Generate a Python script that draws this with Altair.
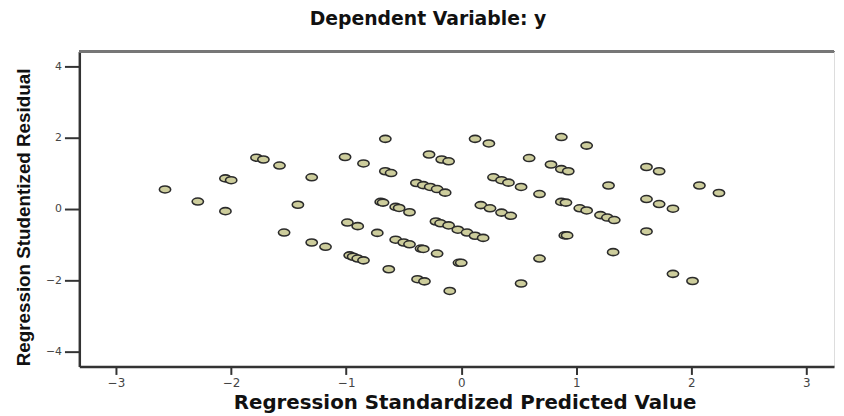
import altair as alt
import pandas as pd

# Regression Standardized Predicted Value (x) and Studentized Residual (y)
x_vals = [-2.575, -2.29, -2.05, -2.05, -2.00, -1.78, -1.72, -1.58, -1.54, -1.42,
          -1.30, -1.30, -1.18, -1.01, -0.99, -0.90, -0.85, -0.97, -0.94, -0.90,
          -0.85, -0.66, -0.73, -0.70, -0.68, -0.66, -0.61, -0.63, -0.57, -0.54,
          -0.45, -0.57, -0.50, -0.45, -0.35, -0.33, -0.21, -0.38, -0.32, -0.10,
          -0.39, -0.33, -0.27, -0.21, -0.14, -0.28, -0.17, -0.11, -0.22, -0.18,
          -0.11, -0.03, 0.05, 0.12, 0.19, -0.02, 0.00, 0.12, 0.24, 0.59,
          0.78, 0.87, 0.93, 0.87, 1.09, 0.28, 0.35, 0.41, 0.52, 0.68,
          0.17, 0.25, 0.35, 0.43, 0.87, 0.91, 1.03, 1.09, 1.21, 1.27,
          1.33, 1.28, 0.90, 0.92, 0.68, 1.32, 0.52, 1.61, 1.72, 1.61,
          1.72, 1.84, 1.61, 1.84, 2.01, 2.07, 2.24]
y_vals = [0.55, 0.21, -0.06, 0.86, 0.81, 1.44, 1.39, 1.22, -0.66, 0.12,
          0.89, -0.94, -1.06, 1.46, -0.38, -0.48, 1.28, -1.30, -1.34, -1.39,
          -1.44, 1.97, -0.67, 0.20, 0.18, 1.06, 1.01, -1.69, 0.06, 0.03,
          -0.09, -0.86, -0.94, -0.99, -1.11, -1.12, -1.25, -1.97, -2.03, -2.30,
          0.73, 0.67, 0.62, 0.56, 0.46, 1.53, 1.39, 1.34, -0.35, -0.40,
          -0.46, -0.58, -0.66, -0.75, -0.81, -1.51, -1.51, 1.97, 1.84, 1.43,
          1.25, 1.12, 1.06, 2.02, 1.78, 0.89, 0.81, 0.74, 0.62, 0.42,
          0.11, 0.02, -0.10, -0.19, 0.20, 0.18, 0.02, -0.04, -0.17, -0.24,
          -0.31, 0.66, -0.74, -0.74, -1.39, -1.21, -2.09, 1.18, 1.06, 0.28,
          0.14, 0.01, -0.63, -1.82, -2.02, 0.66, 0.45]

x_ticks = [-3, -2, -1, 0, 1, 2, 3]
y_ticks = [-4, -2, 0, 2, 4]

df = pd.DataFrame({"x": x_vals, "y": y_vals})

W, H = 762, 318

ellipse = "M-1,0A1,0.62,0,1,0,1,0A1,0.62,0,1,0,-1,0Z"

points = alt.Chart(df).mark_point(
    shape=ellipse, size=130, filled=True, fill="#cdcd9c", stroke="#2b2b2b",
    strokeWidth=1.6, opacity=1
).encode(
    x=alt.X("x:Q", scale=alt.Scale(domain=[-3.32, 3.24], nice=False, zero=False),
            axis=alt.Axis(values=x_ticks, title="Regression Standardized Predicted Value",
                          grid=False, tickSize=8, tickWidth=2, tickColor="#333",
                          domainColor="#333", domainWidth=2.5,
                          labelFont="DejaVu Sans", labelFontSize=12, labelColor="#444",
                          labelPadding=3,
                          titleFont="DejaVu Sans", titleFontSize=20, titleFontWeight="bold",
                          titleColor="#111", titleX=389, titleY=36, titleAnchor="middle",
                          titleAlign="center", titleBaseline="middle")),
    y=alt.Y("y:Q", scale=alt.Scale(domain=[-4.42, 4.42], nice=False, zero=False),
            axis=alt.Axis(values=y_ticks, title="Regression Studentized Residual",
                          grid=False, tickSize=15, tickWidth=2, tickColor="#333",
                          domainColor="#333", domainWidth=2.5,
                          labelFont="DejaVu Sans", labelFontSize=11, labelColor="#444",
                          labelPadding=3,
                          titleFont="Liberation Sans", titleFontSize=19, titleFontWeight="bold",
                          titleColor="#111", titleX=-56, titleY=167, titleAngle=270,
                          titleAlign="center", titleBaseline="middle")),
)

top_border = alt.Chart(df).mark_rule(color="#777", strokeWidth=2).encode(
    x=alt.value(0), x2=alt.value(W), y=alt.value(0)
)

chart = alt.layer(top_border, points).properties(
    width=W, height=H,
    title=alt.TitleParams("Dependent Variable: y", font="DejaVu Sans", fontSize=19,
                          fontWeight="bold", color="#111", anchor="middle",
                          dx=-29, dy=15, offset=22, baseline="alphabetic"),
    autosize=alt.AutoSizeParams(type="none"),
    padding={"left": 72, "top": 42, "right": 2, "bottom": 48},
).configure_view(stroke=None).configure(background="white")

chart.save("out.html", embed_options={"renderer": "svg", "actions": False})
